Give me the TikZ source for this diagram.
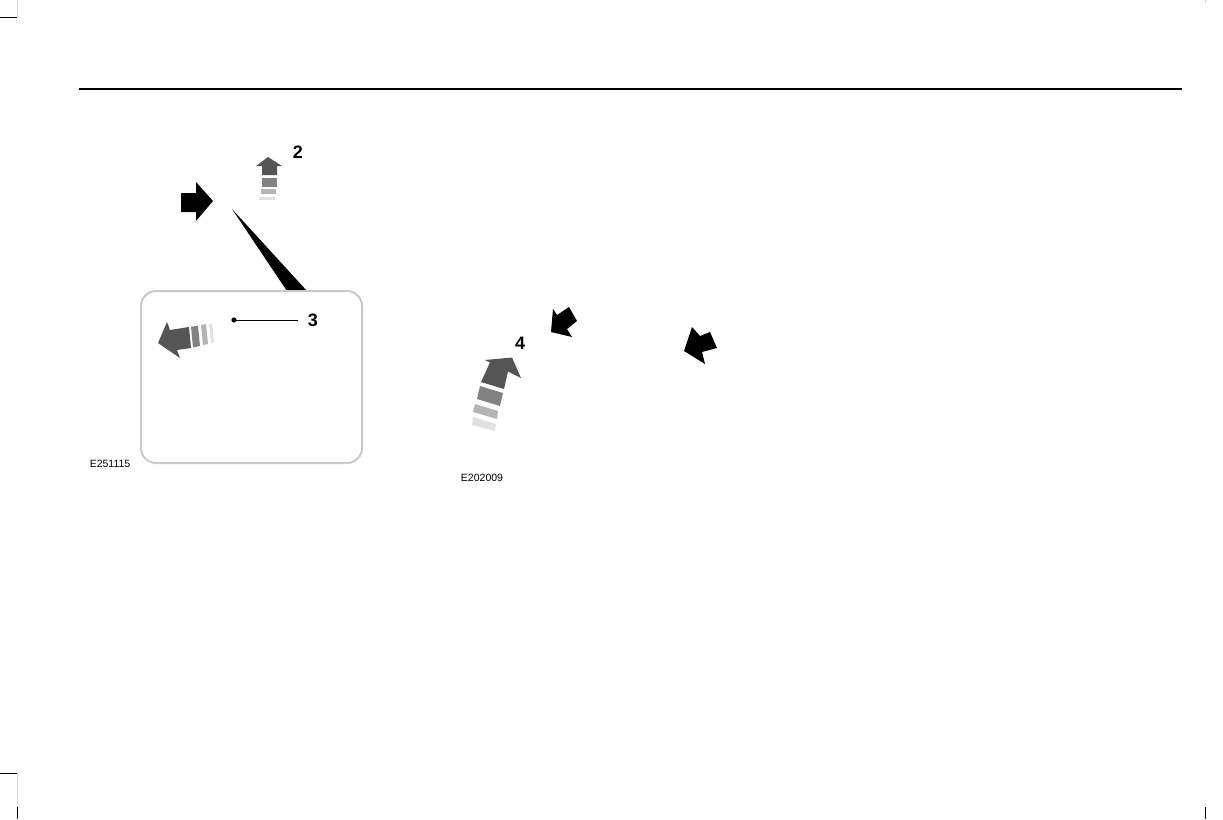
\documentclass[tikz,border=0pt]{standalone}
\usepackage{fontspec}
\setmainfont{Liberation Sans}
\definecolor{arrdark}{HTML}{555555}
\definecolor{arrmid}{HTML}{828282}
\definecolor{arrlight}{HTML}{B4B4B4}
\definecolor{arrfaint}{HTML}{E1E1E1}
\definecolor{boxgray}{HTML}{CACACA}
\definecolor{markgray}{HTML}{D8D8D8}
\tikzset{
  numlabel/.style={font=\bfseries\fontsize{18}{18}\selectfont, inner sep=0pt},
  codelabel/.style={font=\fontsize{10.5}{10.5}\selectfont, inner sep=0pt},
  panelbox/.style={draw=boxgray, line width=2pt, rounded corners=15pt},
  leader/.style={draw=black, line width=0.9pt},
  cropmark/.style={draw=black, line width=1pt},
  cropfaint/.style={draw=markgray, line width=1pt},
}
\begin{document}
\begin{tikzpicture}[x=1pt,y=-1pt]
\useasboundingbox (0,0) rectangle (1223,819);
% crop marks and header rule
\draw[cropmark] (0,17) -- (17,17);
\draw[cropfaint] (17,0) -- (17,17);
\draw[cropmark] (0,773) -- (17,773);
\draw[cropfaint] (17,773) -- (17,807);
\draw[cropmark] (17,807) -- (17,819);
\draw[cropmark] (1205,807) -- (1205,819);
\draw[cropfaint] (1205,0) -- (1205,3);
\draw[black, line width=1.3pt] (79,89) -- (1182,89);

% ---------- left panel ----------
% callout wedge
\fill[black] (232,209) -- (287,291) -- (307,291) -- cycle;
% rounded box
\draw[panelbox, fill=white] (141,291) rectangle (362,463);
% black arrow pointing right
\fill[black] (181,193) -- (196,193) -- (196,182) -- (213,201) -- (196,221) -- (196,212) -- (181,212) -- cycle;
% gray arrow 2 (up)
\fill[arrdark] (256,166) -- (268,157) -- (282,166) -- (277,166) -- (277,175) -- (262,175) -- (262,166) -- cycle;
\fill[arrmid] (262,178) rectangle (277,187);
\fill[arrlight] (261,189) rectangle (276,194);
\fill[arrfaint] (259,196.5) rectangle (275,199.5);
% gray arrow in box (left)
\fill[arrdark] (158,343) -- (167,322) -- (170,330) -- (189,327) -- (191,348) -- (177,350) -- (180,358) -- cycle;
\fill[arrmid] (191,327) -- (198,325.5) -- (200,346) -- (193,347.5) -- cycle;
\fill[arrlight] (201,325) -- (206,324) -- (208,344) -- (203,345) -- cycle;
\fill[arrfaint] (209,324) -- (212,323.5) -- (214,342.5) -- (211,343) -- cycle;
% labels
\node[numlabel] (l2) at (298,152) {2};
\node[numlabel] (l3) at (313,320.5) {3};
\coordinate (d3) at (234,320);
\fill[black] (d3) circle (2.6);
\draw[leader] (d3) -- ([xshift=-10pt]l3.west |- d3);
\node[codelabel] (c1) at (110,464) {E251115};

% ---------- right panel ----------
% black arrow A (down-left)
\fill[black] (551,332) -- (553,309) -- (557,315) -- (569,307) -- (577,321) -- (567,329) -- (572,337) -- cycle;
% black arrow B (left)
\fill[black] (684,351) -- (692,327) -- (700,336) -- (710,332) -- (717,348) -- (702,352) -- (705,364) -- cycle;
% curved gray arrow 4
\fill[arrdark] (485,360) -- (512,357.5) -- (521,378) -- (508,371.5) -- (504,389) -- (481,382) -- (490,362.5) -- cycle;
\fill[arrmid] (480,386) -- (503,393) -- (500,406) -- (477,399) -- cycle;
\fill[arrlight] (475,404) -- (498,411) -- (497,419) -- (473,412) -- cycle;
\fill[arrfaint] (473,417) -- (496,424) -- (495,431) -- (472,425) -- cycle;
\node[numlabel] (l4) at (520,343) {4};
\node[codelabel] (c2) at (482,478) {E202009};
\end{tikzpicture}
\end{document}
